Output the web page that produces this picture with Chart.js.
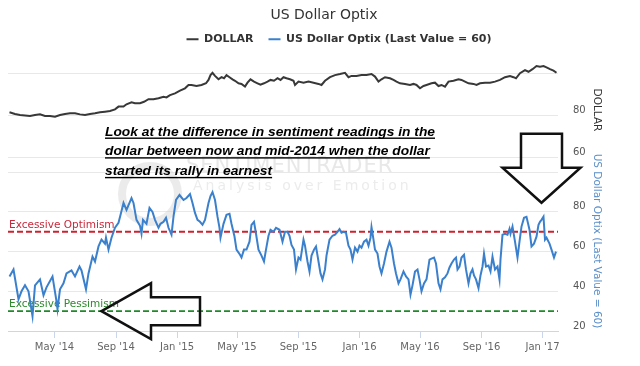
<!DOCTYPE html>
<html lang="en">
<head>
<meta charset="UTF-8">
<title>US Dollar Optix</title>
<script src="https://cdn.jsdelivr.net/npm/chart.js"></script>
<style>
  html, body { margin: 0; padding: 0; background: #fff; }
</style>
</head>
<body>
<canvas id="grafica" width="640" height="366"></canvas>
<script>
// series start and x axis range
const startDate = '2014-01-31';
const axisStart = '2014-01-28';
const axisEnd = '2017-02-01';

// DOLLAR (days after startDate, index value)
const dollarDays = [0,11,21,31,41,51,61,71,81,91,101,111,121,131,141,151,161,171,181,191,201,211,218,228,234,244,251,261,269,278,288,298,308,314,321,331,341,351,358,364,374,384,393,398,402,406,411,418,424,429,434,440,446,451,458,464,471,476,482,489,496,502,509,516,522,529,536,542,548,554,561,568,571,578,588,598,608,618,624,631,641,651,661,671,678,684,694,704,714,724,731,738,744,751,761,768,774,781,791,801,808,814,821,828,834,844,851,858,864,871,878,888,898,904,911,918,928,934,941,951,961,971,981,991,1001,1008,1013,1021,1031,1038,1046,1054,1061,1068,1074,1081,1088,1094];
const dollarValues = [81.3,80.5,80,79.8,79.5,80,80.3,79.5,79.5,79.2,80,80.5,80.8,80.8,80.3,80,80.5,80.8,81.3,81.6,81.9,82.7,84,84,85.1,86,85.6,85.6,86.3,87.5,87.5,88,88.7,88.4,89.5,90.3,91.6,92.7,94.3,94.3,93.8,94.3,95.1,96.7,99,100.1,98.6,97,98,97.5,99,98,97,96.3,95.1,94.8,93.5,95.4,97,95.9,95.1,94.4,95.1,95.9,96.7,96.3,97.5,96.7,98,97.5,97,96.3,94.3,95.9,95.4,95.9,95.4,94.8,94.3,96.3,98,99,99.5,100.1,98,98.6,98.6,99,99,99.5,98.3,95.9,97,98,97.5,96.7,95.9,95.1,94.8,94.3,94.8,94.3,92.7,93.8,94.3,95.1,95.4,93.8,94.3,93.5,95.9,96.3,97,96.7,95.9,95.1,94.8,94.3,95.1,95.4,95.4,95.9,96.7,98,98.6,98,97.5,99.9,101.4,100.6,101.8,103.3,103,103.3,102.7,101.8,101.1,100.1];

// US Dollar Optix (days after startDate, value)
const optixDays = [0,8,18,24,31,38,46,51,61,68,74,86,94,96,101,108,114,124,131,140,144,153,158,166,171,178,184,191,193,198,204,211,218,223,228,234,244,248,254,261,264,267,274,280,286,291,298,302,308,313,318,324,328,333,340,348,354,361,366,371,376,381,386,391,398,402,406,411,416,420,422,428,434,440,444,450,454,461,464,469,474,480,484,489,493,498,504,509,513,518,522,528,533,540,546,551,556,560,564,569,573,578,582,588,591,596,600,604,609,613,618,622,626,631,634,640,646,651,656,660,664,668,673,678,682,686,691,696,700,704,709,714,718,722,724,728,731,736,740,744,749,754,760,764,769,773,778,782,788,793,798,802,806,811,816,820,824,829,834,840,844,849,853,858,862,866,871,876,880,884,889,893,896,900,904,909,913,918,922,926,929,933,938,942,946,949,953,958,962,966,971,976,980,982,986,991,996,1000,1002,1006,1011,1016,1020,1024,1029,1034,1040,1044,1049,1054,1058,1061,1064,1068,1071,1074,1080,1084,1089,1093];
const optixValues = [47.5,51,36,40,43,40,27.5,43,46,38,42,47.5,35,31,41,44,49,50.5,47.5,52.5,50.5,41,49,57.5,55,62.6,66,64,67,61,67,72,74.5,79.5,84.5,81,87,84.5,76,73,69,76,74,82,80,76,72,74,75,77,72,68.5,77.6,86,88.5,86,87,89,84.5,79.5,76,75,73.5,76,84.5,88,90,86,77.6,72,67,74,78.5,79,74,67.6,61,58.4,57,61,61,65,73.5,75,69,61,58,55,61,68,71,70,72,71,65,70,70,68,63.4,61,51,57,56,66,63,55,50,58,61,62.6,55,49,46,51,58,66,68,68.5,70,71.3,69.5,70,69.5,63,61,56,62,60,63,62,65,66,63,67,72.3,66,61,59,52.5,49,54,60,65,62,54,49,44,46,50,47.5,46,38.3,43,50,51,46,40,44,46,56,56.5,57,54,44,41,46,47,49,52,54,56,57,51,52.5,57,58.4,51,44,49,51,48,46,41.6,48,52.5,59,52.5,53,50,57.5,51,52.5,46,56,68.5,69,68.5,71.5,69,72.6,65,57,65,72.6,77,77.5,71,62.6,64,67.5,73.5,75,76,77.6,66,67,64,61,57,60];

// sentiment bands
const optimismLevel = 70;
const pessimismLevel = 30;

// axis ticks
const tickDates = ['2014-05-01','2014-09-01','2015-01-01','2015-05-01','2015-09-01','2016-01-01','2016-05-01','2016-09-01','2017-01-01'];
const tickLabels = ["May '14","Sep '14","Jan '15","May '15","Sep '15","Jan '16","May '16","Sep '16","Jan '17"];
const dollarTicks = [60, 80, 100];
const dollarTickLabels = ['60', '80', ''];
const optixTicks = [20, 40, 60, 80, 100];
const optixTickLabels = ['20', '40', '60', '80', ''];

const noteLines = [
  'Look at the difference in sentiment readings in the',
  'dollar between now and mid-2014 when the dollar',
  'started its rally in earnest'
];

const DAY = 86400000;
const toDay = d => (Date.parse(d) - Date.parse(startDate)) / DAY;
const xMin = toDay(axisStart), xMax = toDay(axisEnd);
const tickDays = tickDates.map(toDay);

Chart.defaults.font.family = 'DejaVu Sans';

const lineaOptix = '#3b80cc';
const lineaDolar = '#383838';
const tickFont = '10px "DejaVu Sans"';

// extra drawing: watermark, band labels, arrows, note, axis titles
const decoraciones = {
  id: 'decoraciones',
  afterLayout(chart) {
    // legend sits a little higher and to the right in the reference
    chart.legend.top -= 1;
    chart.legend.left += 30;
  },
  beforeDatasetsDraw(chart) {
    const ctx = chart.ctx;
    ctx.save();
    ctx.strokeStyle = 'rgba(205,205,205,0.4)';
    ctx.lineWidth = 8;
    ctx.beginPath();
    ctx.arc(150, 194, 28, 0, Math.PI * 2);
    ctx.stroke();
    ctx.fillStyle = '#e8e8e8';
    ctx.textBaseline = 'alphabetic';
    ctx.font = '21px "DejaVu Sans"';
    ctx.letterSpacing = '1px';
    ctx.fillText('SENTIMENTRADER', 186, 172);
    ctx.font = '14px "DejaVu Sans"';
    ctx.letterSpacing = '3px';
    ctx.fillStyle = '#ececec';
    ctx.fillText('Analysis over Emotion', 193, 190);
    ctx.letterSpacing = '0px';

    const y = chart.scales.yOptix;
    const left = chart.chartArea.left;
    ctx.font = '10.5px "DejaVu Sans"';
    ctx.fillStyle = '#c9283a';
    ctx.fillText('Excessive Optimism', left + 1, y.getPixelForValue(optimismLevel) - 4);
    ctx.fillStyle = '#2d8a2d';
    ctx.fillText('Excessive Pessimism', left + 1, y.getPixelForValue(pessimismLevel) - 4);
    ctx.restore();
  },
  afterDraw(chart) {
    const ctx = chart.ctx;
    const x = chart.scales.x, y = chart.scales.yOptix, yd = chart.scales.yDollar;
    ctx.save();

    // DOLLAR tick labels, sharing the right gutter with the Optix labels
    ctx.font = tickFont;
    ctx.fillStyle = '#555';
    ctx.textAlign = 'left';
    ctx.textBaseline = 'middle';
    dollarTicks.forEach((v, i) => {
      ctx.fillText(dollarTickLabels[i], chart.chartArea.right + 15, yd.getPixelForValue(v) - 5);
    });

    ctx.strokeStyle = '#111';
    ctx.lineWidth = 2.5;
    ctx.lineJoin = 'miter';

    // down arrow pointing at the late-2016 readings
    let tx = x.getPixelForValue(toDay('2017-01-01')) - 1;
    let ty = y.getPixelForValue(84.6);
    ctx.beginPath();
    ctx.moveTo(tx, ty);
    ctx.lineTo(tx - 39, ty - 35);
    ctx.lineTo(tx - 20.5, ty - 35);
    ctx.lineTo(tx - 20.5, ty - 69);
    ctx.lineTo(tx + 20.5, ty - 69);
    ctx.lineTo(tx + 20.5, ty - 35);
    ctx.lineTo(tx + 39, ty - 35);
    ctx.closePath();
    ctx.stroke();

    // left arrow pointing at the mid-2014 readings
    tx = x.getPixelForValue(toDay('2014-08-03'));
    ty = y.getPixelForValue(pessimismLevel);
    ctx.beginPath();
    ctx.moveTo(tx, ty);
    ctx.lineTo(tx + 49.5, ty - 28);
    ctx.lineTo(tx + 49.5, ty - 14);
    ctx.lineTo(tx + 98.5, ty - 14);
    ctx.lineTo(tx + 98.5, ty + 14);
    ctx.lineTo(tx + 49.5, ty + 14);
    ctx.lineTo(tx + 49.5, ty + 28);
    ctx.closePath();
    ctx.stroke();

    // note text, bold italic underlined
    ctx.fillStyle = '#000';
    ctx.textBaseline = 'alphabetic';
    ctx.font = 'italic bold 13.5px "Liberation Sans"';
    const escala = 330 / ctx.measureText(noteLines[0]).width;
    noteLines.forEach((t, i) => {
      const by = 135.5 + i * 19.7;
      const w = ctx.measureText(t).width * escala;
      ctx.save();
      ctx.translate(105, by);
      ctx.scale(escala, 1);
      ctx.fillText(t, 0, 0);
      ctx.restore();
      ctx.fillRect(105, by + 2, w, 1.4);
    });

    // axis titles on the right
    ctx.font = '10.5px "DejaVu Sans"';
    ctx.textAlign = 'center';
    ctx.textBaseline = 'middle';
    ctx.translate(597, 110);
    ctx.rotate(Math.PI / 2);
    ctx.fillStyle = '#333';
    ctx.fillText('DOLLAR', 0, 0);
    ctx.rotate(-Math.PI / 2);
    ctx.translate(0, 131);
    ctx.rotate(Math.PI / 2);
    ctx.fillStyle = '#5b8fc9';
    ctx.fillText('US Dollar Optix (Last Value = 60)', 0, 0);
    ctx.restore();
  }
};

const grafica = new Chart(document.getElementById('grafica'), {
  type: 'line',
  data: {
    datasets: [
      {
        label: 'DOLLAR',
        data: dollarDays.map((d, i) => ({ x: d, y: dollarValues[i] })),
        yAxisID: 'yDollar',
        borderColor: lineaDolar, backgroundColor: lineaDolar,
        borderWidth: 2, pointRadius: 0, tension: 0
      },
      {
        label: 'US Dollar Optix (Last Value = 60)',
        data: optixDays.map((d, i) => ({ x: d, y: optixValues[i] })),
        yAxisID: 'yOptix',
        borderColor: lineaOptix, backgroundColor: lineaOptix,
        borderWidth: 2, pointRadius: 0, tension: 0
      },
      {
        label: 'Excessive Optimism',
        data: [{ x: xMin, y: optimismLevel }, { x: xMax, y: optimismLevel }],
        yAxisID: 'yOptix',
        borderColor: '#d0202e', borderWidth: 1.8, borderDash: [6, 3],
        pointRadius: 0, order: 1
      },
      {
        label: 'Excessive Pessimism',
        data: [{ x: xMin, y: pessimismLevel }, { x: xMax, y: pessimismLevel }],
        yAxisID: 'yOptix',
        borderColor: '#1e8a2a', borderWidth: 1.8, borderDash: [6, 3],
        pointRadius: 0, order: 1
      }
    ]
  },
  options: {
    responsive: false,
    animation: false,
    layout: { padding: { left: 8, top: 0, right: 0, bottom: 0 } },
    plugins: {
      title: {
        display: true, text: 'US Dollar Optix', color: '#333',
        font: { size: 14, weight: 'normal' }, padding: { top: 7, bottom: -4 }
      },
      legend: {
        labels: {
          filter: item => item.datasetIndex < 2,
          usePointStyle: true, pointStyle: 'line', pointStyleWidth: 12,
          color: '#333', font: { size: 11, weight: 'bold' }, padding: 15
        }
      },
      tooltip: { enabled: false }
    },
    scales: {
      x: {
        type: 'linear', min: xMin, max: xMax,
        afterBuildTicks: s => { s.ticks = tickDays.map(v => ({ value: v })); },
        ticks: {
          callback: (v, i) => tickLabels[i],
          color: '#666', font: { size: 10 }, maxRotation: 0, autoSkip: false, padding: 3
        },
        grid: { drawOnChartArea: false, tickLength: 7, color: '#ccd6eb' },
        border: { color: '#ccd6eb' },
        afterFit: s => { s.height = 35; }
      },
      yDollar: {
        position: 'right', weight: 2, min: -23, max: 106,
        afterBuildTicks: s => { s.ticks = dollarTicks.map(v => ({ value: v })); },
        ticks: { display: false },
        grid: { color: '#e8e8e8', drawTicks: false },
        border: { display: false },
        afterFit: s => { s.width = 0; }
      },
      yOptix: {
        position: 'right', weight: 1, min: 20, max: 156,
        afterBuildTicks: s => { s.ticks = optixTicks.map(v => ({ value: v })); },
        ticks: {
          callback: (v, i) => optixTickLabels[i],
          labelOffset: -5, padding: 15, color: '#555', font: { size: 10 }
        },
        grid: { color: '#e8e8e8', drawTicks: false },
        border: { display: false },
        afterFit: s => { s.width = 82; }
      }
    }
  },
  plugins: [decoraciones]
});

// line the two panels up with the reference: DOLLAR 80 at y=115 (2.1 px per unit),
// Optix 20 at y=331 (1.985 px per unit)
const area = grafica.chartArea;
grafica.options.scales.yDollar.min = 80 - (area.bottom - 115) / 2.1;
grafica.options.scales.yDollar.max = 80 + (115 - area.top) / 2.1;
grafica.options.scales.yOptix.min = 20 - (area.bottom - 331) / 1.985;
grafica.options.scales.yOptix.max = 20 + (331 - area.top) / 1.985;
grafica.update('none');
</script>
</body>
</html>
